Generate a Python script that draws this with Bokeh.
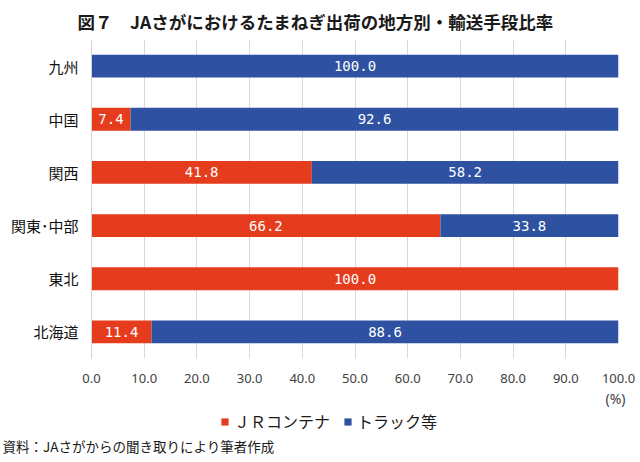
from bokeh.plotting import figure
from bokeh.layouts import column
from bokeh.models import (ColumnDataSource, FactorRange, Range1d, FixedTicker,
                          NumeralTickFormatter, Title, Legend, LegendItem, Label)
from bokeh.core.properties import value
from bokeh.embed import file_html
from bokeh.resources import INLINE

# ---- data ----
regions = ["九州", "中国", "関西", "関東･中部", "東北", "北海道"]  # top to bottom
jr_share = [0.0, 7.4, 41.8, 66.2, 100.0, 11.4]
truck_share = [100.0, 92.6, 58.2, 33.8, 0.0, 88.6]
series_names = ["ＪＲコンテナ", "トラック等"]
x_ticks = [0, 10, 20, 30, 40, 50, 60, 70, 80, 90, 100]
title_text = "図７　JAさがにおけるたまねぎ出荷の地方別・輸送手段比率"
source_text = "資料：JAさがからの聞き取りにより筆者作成"
unit_text = "(%)"

RED = "#E63C1E"
BLUE = "#2E52A1"
JP = "Noto Sans CJK JP"

src = ColumnDataSource(dict(region=regions, jr=jr_share, truck=truck_share))

# ---------------- main chart ----------------
p = figure(width=640, height=410, output_backend="svg", toolbar_location=None,
           y_range=FactorRange(factors=list(reversed(regions))),
           x_range=Range1d(0, 100),
           min_border_left=91, min_border_right=22, min_border_top=33,
           min_border_bottom=52)
p.frame_align = False
p.outline_line_color = None
p.background_fill_color = "white"

rs = p.hbar_stack(["jr", "truck"], y="region", height=0.43, color=[RED, BLUE],
                  line_color=None, source=src)

# bar value labels (from data)
lx, ly, lt = [], [], []
for r, a, b in zip(regions, jr_share, truck_share):
    if a > 0:
        lx.append(a / 2); ly.append(r); lt.append(f"{a:.1f}")
    if b > 0:
        lx.append(a + b / 2); ly.append(r); lt.append(f"{b:.1f}")
p.text(x=lx, y=ly, text=lt, text_color="white", text_align="center",
       text_baseline="middle", text_font=value("DejaVu Sans Mono"),
       text_font_size="14px")

# title
p.title.text = title_text
p.title.align = "left"
p.title.offset = -14
p.title.standoff = 12
p.title.text_font = JP
p.title.text_font_size = "17.5px"
p.title.text_font_style = "bold"
p.title.text_color = "#1a1a1a"

# axes
p.xaxis.ticker = FixedTicker(ticks=x_ticks)
p.xaxis.formatter = NumeralTickFormatter(format="0.0")
p.xaxis.axis_line_color = None
p.xaxis.major_tick_line_color = None
p.xaxis.minor_tick_line_color = None
p.xaxis.major_tick_out = 0
p.xaxis.major_label_standoff = 15
p.xaxis.major_label_text_font = "Noto Sans"
p.xaxis.major_label_text_font_size = "13px"
p.xaxis.major_label_text_color = "#404040"

p.yaxis.axis_line_color = "#d4d4d4"
p.yaxis.major_tick_line_color = None
p.yaxis.minor_tick_line_color = None
p.yaxis.major_tick_out = 0
p.yaxis.major_label_standoff = 13
p.yaxis.major_label_text_font = JP
p.yaxis.major_label_text_font_size = "15px"
p.yaxis.major_label_text_color = "#111111"

p.xgrid.grid_line_color = "#d9d9d9"
p.ygrid.grid_line_color = None

p.add_layout(Title(text=unit_text, align="right", offset=-7, standoff=3,
                   text_font="Noto Sans", text_font_size="14px",
                   text_font_style="normal", text_color="#404040"), "below")

# ---------------- legend + source strip ----------------
p2 = figure(width=640, height=52, output_backend="svg", toolbar_location=None,
            x_range=Range1d(0, 640), y_range=Range1d(52, 0),
            min_border_left=0, min_border_right=0, min_border_top=0,
            min_border_bottom=0)
p2.frame_align = False
p2.outline_line_color = None
p2.axis.visible = False
p2.grid.visible = False

# zero-length proxy bars (out of view) that carry the legend swatches
leg_src = ColumnDataSource(dict(y=[-10], left=[0], right=[0]))
r_jr = p2.hbar(y="y", left="left", right="right", height=1, color=RED,
               line_color=None, source=leg_src)
r_tr = p2.hbar(y="y", left="left", right="right", height=1, color=BLUE,
               line_color=None, source=leg_src)

legend = Legend(items=[LegendItem(label=series_names[0], renderers=[r_jr]),
                       LegendItem(label=series_names[1], renderers=[r_tr])],
                location=(220, 29), orientation="horizontal",
                padding=0, margin=0, spacing=13, label_standoff=5,
                glyph_width=9, glyph_height=9, label_height=16,
                label_text_font=JP, label_text_font_size="16px",
                label_text_color="#1a1a1a", border_line_color=None,
                background_fill_alpha=0)
p2.add_layout(legend)

p2.add_layout(Label(x=2, y=35, text=source_text, text_font=JP,
                    text_font_size="13.5px", text_color="#1a1a1a",
                    text_baseline="middle", text_align="left"))

open("out.html", "w").write(file_html(column(p, p2), INLINE))
